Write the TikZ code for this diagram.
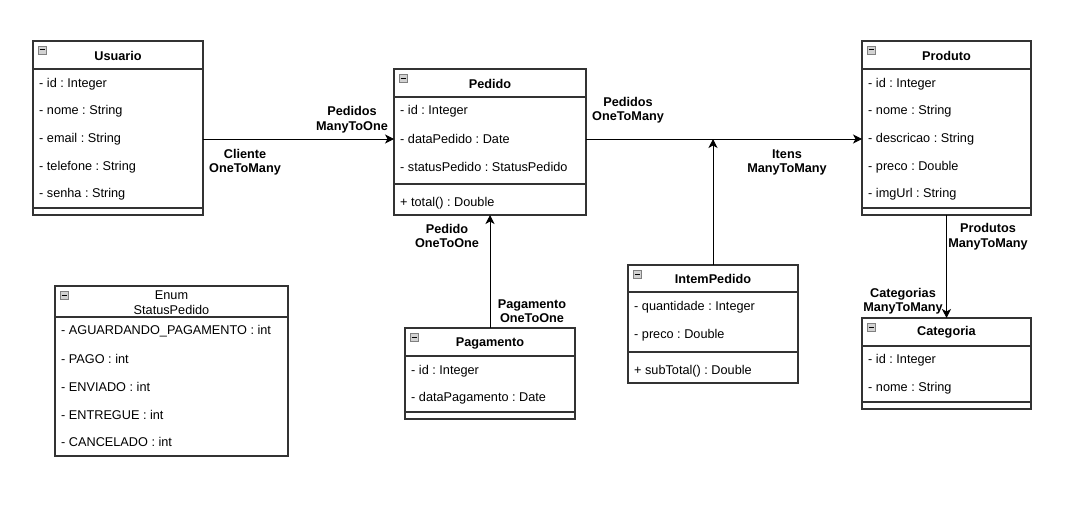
\documentclass[tikz,border=0pt]{standalone}
\usepackage{fontspec}
\setmainfont{Liberation Sans}
\usetikzlibrary{arrows.meta}
\frenchspacing

\tikzset{
  classbox/.style={draw=black!80, line width=1.3pt, inner sep=0pt, outer sep=0pt},
  sep/.style={draw=black!80, line width=1.3pt},
  txt/.style={font=\fontsize{12.7}{14.5}\selectfont, inner sep=0pt},
  title/.style={font=\fontsize{12.7}{14.5}\selectfont\bfseries, inner sep=0pt},
  attr/.style={txt, anchor=west},
  icon/.style={draw=gray, fill=gray!35, minimum size=8.5pt, inner sep=0pt,
    path picture={\draw[black, line width=1pt]
      ([xshift=-2.5pt]path picture bounding box.center) --
      ([xshift=2.5pt]path picture bounding box.center);}},
  rel/.style={-{Stealth[length=9pt,width=9pt,inset=2.5pt]}, line width=1pt},
  lbl/.style={font=\fontsize{12.7}{14.5}\selectfont\bfseries, align=center, inner sep=0pt}
}

\begin{document}
\begin{tikzpicture}[x=1pt, y=-1pt]
    \useasboundingbox (0,0) rectangle (1073,511);

    % Usuario
    \node[classbox, minimum width=170pt, minimum height=174pt] (usuario) at (118,128) {};
    \draw[sep] (33,69) -- (203,69);
    \draw[sep] (33,208) -- (203,208);
    \node[icon] (uicon) at (42,50) {};
    \node[title] (utitle) at (118,56) {Usuario};
    \node[attr] (uid) at (39,84) {- id : Integer};
    \node[attr] (unome) at (39,111) {- nome : String};
    \node[attr] (uemail) at (39,139) {- email : String};
    \node[attr] (utelefone) at (39,167) {- telefone : String};
    \node[attr] (usenha) at (39,194) {- senha : String};

    % Pedido
    \node[classbox, minimum width=192pt, minimum height=146pt] (pedido) at (490,142) {};
    \draw[sep] (394,97) -- (586,97);
    \draw[sep] (394,184) -- (586,184);
    \node[icon] (picon) at (403,78) {};
    \node[title] (ptitle) at (490,84) {Pedido};
    \node[attr] (pid) at (400,111) {- id : Integer};
    \node[attr] (pdata) at (400,139) {- dataPedido : Date};
    \node[attr] (pstatus) at (400,167) {- statusPedido : StatusPedido};
    \node[attr] (ptotal) at (400,203) {+ total() : Double};

    % Produto
    \node[classbox, minimum width=169pt, minimum height=174pt] (produto) at (946.5,128) {};
    \draw[sep] (862,69) -- (1031,69);
    \draw[sep] (862,208) -- (1031,208);
    \node[icon] (dicon) at (871,50) {};
    \node[title] (dtitle) at (946.5,56) {Produto};
    \node[attr] (did) at (868,84) {- id : Integer};
    \node[attr] (dnome) at (868,111) {- nome : String};
    \node[attr] (ddescricao) at (868,139) {- descricao : String};
    \node[attr] (dpreco) at (868,167) {- preco : Double};
    \node[attr] (dimg) at (868,194) {- imgUrl : String};

    % Categoria
    \node[classbox, minimum width=169pt, minimum height=91pt] (categoria) at (946.5,363.5) {};
    \draw[sep] (862,346) -- (1031,346);
    \draw[sep] (862,402) -- (1031,402);
    \node[icon] (cicon) at (871,327) {};
    \node[title] (ctitle) at (946.5,332) {Categoria};
    \node[attr] (cid) at (868,360) {- id : Integer};
    \node[attr] (cnome) at (868,388) {- nome : String};

    % Enum StatusPedido
    \node[classbox, minimum width=233pt, minimum height=170pt] (status) at (171.5,371) {};
    \draw[sep] (55,317) -- (288,317);
    \node[icon] (sicon) at (64,295) {};
    \node[txt, align=center] (stitle) at (171.5,302.5) {Enum\\StatusPedido};
    \node[attr] (saguardando) at (61,331) {- AGUARDANDO\_PAGAMENTO : int};
    \node[attr] (spago) at (61,359) {- PAGO : int};
    \node[attr] (senviado) at (61,387) {- ENVIADO : int};
    \node[attr] (sentregue) at (61,415) {- ENTREGUE : int};
    \node[attr] (scancelado) at (61,442) {- CANCELADO : int};

    % Pagamento
    \node[classbox, minimum width=170pt, minimum height=91pt] (pagamento) at (490,373.5) {};
    \draw[sep] (405,356) -- (575,356);
    \draw[sep] (405,412) -- (575,412);
    \node[icon] (gicon) at (414,337) {};
    \node[title] (gtitle) at (490,343) {Pagamento};
    \node[attr] (gid) at (411,371) {- id : Integer};
    \node[attr] (gdata) at (411,398) {- dataPagamento : Date};

    % IntemPedido
    \node[classbox, minimum width=170pt, minimum height=118pt] (intem) at (713,324) {};
    \draw[sep] (628,292) -- (798,292);
    \draw[sep] (628,352) -- (798,352);
    \node[icon] (iicon) at (637,274) {};
    \node[title] (ititle) at (713,279) {IntemPedido};
    \node[attr] (iquantidade) at (634,307) {- quantidade : Integer};
    \node[attr] (ipreco) at (634,335) {- preco : Double};
    \node[attr] (isubtotal) at (634,371) {+ subTotal() : Double};

    % relacoes
    \draw[rel] (usuario.east |- uemail) -- (pedido.west |- pdata);
    \draw[rel] (pedido.east |- pdata) -- (produto.west |- ddescricao);
    \draw[rel] (intem.north) -- (intem.north |- pdata);
    \draw[rel] (pagamento.north) -- (pedido.south);
    \draw[rel] (produto.south) -- (categoria.north);

    \node[lbl] (lpedidos) at (352,119.5) {Pedidos\\ManyToOne};
    \node[lbl] (lcliente) at (245,162) {Cliente\\OneToMany};
    \node[lbl] (lpedidos2) at (628,110) {Pedidos\\OneToMany};
    \node[lbl] (litens) at (787,162.5) {Itens\\ManyToMany};
    \node[lbl] (lpedido) at (447,236) {Pedido\\OneToOne};
    \node[lbl] (lpagamento) at (532,311) {Pagamento\\OneToOne};
    \node[lbl] (lprodutos) at (988,236.5) {Produtos\\ManyToMany};
    \node[lbl] (lcategorias) at (903,301) {Categorias\\ManyToMany};
\end{tikzpicture}
\end{document}
